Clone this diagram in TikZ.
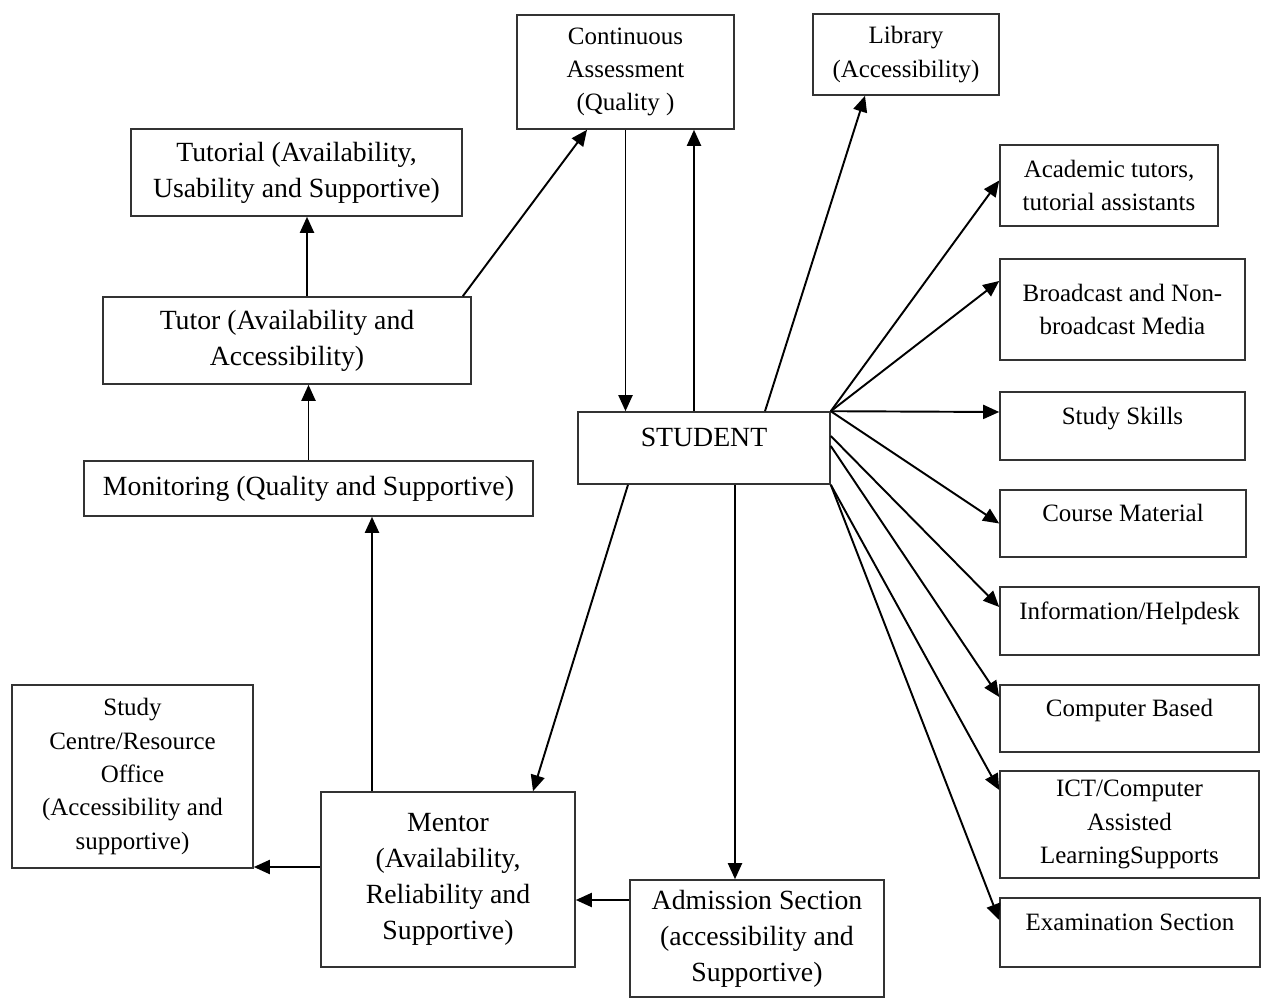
\documentclass[tikz,border=0pt]{standalone}
\usepackage{fontspec}
\setmainfont{Liberation Serif}
\usepackage{tikz}
\usetikzlibrary{
    arrows.meta
}

\begin{document}
\begin{tikzpicture}[x=0.2mm, y=-0.2mm,
    box/.style={
        rectangle,
        draw=black!80,
        line width=0.9pt,
        align=center,
        inner sep=2pt
    },
    bigtext/.style={font=\fontsize{15.8}{20.5}\selectfont},
    smalltext/.style={font=\fontsize{14.2}{19}\selectfont},
    raised/.style={text depth=12pt},
    arrow/.style={-{Triangle[length=3.2mm,width=2.8mm]}, line width=1.1pt}
]
\useasboundingbox (0,0) rectangle (1261,999);

% ===== TOP ROW =====
\node[box, smalltext, minimum width=43.4mm, minimum height=22.8mm] (ca) at (625.5,72) {Continuous\\Assessment\\(Quality )};
\node[box, smalltext, minimum width=37.2mm, minimum height=16.2mm] (lib) at (906,54.5) {Library\\(Accessibility)};

% ===== LEFT COLUMN =====
\node[box, bigtext, minimum width=66.2mm, minimum height=17.4mm] (tutorial) at (296.5,172.5) {Tutorial (Availability,\\Usability and Supportive)};
\node[box, bigtext, minimum width=73.6mm, minimum height=17.4mm] (tutor) at (287,340.5) {Tutor (Availability and\\Accessibility)};
\node[box, bigtext, minimum width=89.8mm, minimum height=11mm] (monitor) at (308.5,488.5) {Monitoring (Quality and Supportive)};
\node[box, smalltext, minimum width=48.2mm, minimum height=36.6mm] (centre) at (132.5,776.5) {Study\\Centre/Resource\\Office\\(Accessibility and\\supportive)};
\node[box, bigtext, minimum width=50.8mm, minimum height=35mm] (mentor) at (448,879.5) {Mentor\\(Availability,\\Reliability and\\Supportive)};

% ===== CENTRE =====
\node[box, bigtext, raised, minimum width=50.4mm, minimum height=14.4mm] (student) at (704,448) {STUDENT};
\node[box, bigtext, minimum width=50.8mm, minimum height=23.4mm] (admission) at (757,938.5) {Admission Section\\(accessibility and\\Supportive)};

% ===== RIGHT COLUMN =====
\node[box, smalltext, minimum width=43.6mm, minimum height=16.2mm] (acad) at (1109,185.5) {Academic tutors,\\tutorial assistants};
\node[box, smalltext, minimum width=49mm, minimum height=20.2mm] (media) at (1122.5,309.5) {Broadcast and Non-\\broadcast Media};
\node[box, smalltext, raised, minimum width=49mm, minimum height=13.6mm] (skills) at (1122.5,426) {Study Skills};
\node[box, smalltext, raised, minimum width=49.2mm, minimum height=13.4mm] (course) at (1123,523.5) {Course Material};
\node[box, smalltext, raised, minimum width=51.8mm, minimum height=13.6mm] (info) at (1129.5,621) {Information/Helpdesk};
\node[box, smalltext, raised, minimum width=51.8mm, minimum height=13.4mm] (computer) at (1129.5,718.5) {Computer Based};
\node[box, smalltext, minimum width=51.8mm, minimum height=21.4mm] (ict) at (1129.5,824.5) {ICT/Computer\\Assisted\\LearningSupports};
\node[box, smalltext, raised, minimum width=52mm, minimum height=13.8mm] (exam) at (1130,932.5) {Examination Section};

% left column arrows
\draw[arrow] ([xshift=4mm]tutor.north) -- ([xshift=4mm]tutor.north |- tutorial.south);
\draw[arrow] (monitor.north) -- (monitor.north |- tutor.south);
\draw[arrow] ([xshift=-15.2mm]mentor.north) -- ([xshift=-15.2mm]mentor.north |- monitor.south);
\draw[arrow] ([xshift=-1.8mm]tutor.north east) -- ([xshift=-7.7mm]ca.south);

% student <-> top
\draw[arrow] (ca.south) -- (ca.south |- student.north);
\draw[arrow] ([xshift=-2mm]student.north) -- ([xshift=-2mm]student.north |- ca.south);
\draw[arrow] ([xshift=12.2mm]student.north) -- ([xshift=-8.2mm]lib.south);

% fan to the right
\draw[arrow] (student.north east) -- ([yshift=1mm]acad.west);
\draw[arrow] (student.north east) -- ([yshift=5.7mm]media.west);
\draw[arrow] (student.north east) -- ([yshift=2.8mm]skills.west);
\draw[arrow] (student.north east) -- (course.west);
\draw[arrow] ([yshift=2.4mm]student.east) -- ([yshift=2.8mm]info.west);
\draw[arrow] ([yshift=0.4mm]student.east) -- ([yshift=4.3mm]computer.west);
\draw[arrow] (student.south east) -- ([yshift=6.9mm]ict.west);
\draw[arrow] (student.south east) -- ([yshift=2.5mm]exam.west);

% lower arrows
\draw[arrow] ([xshift=-15.2mm]student.south) -- ([xshift=17mm]mentor.north);
\draw[arrow] ([xshift=6.2mm]student.south) -- ([xshift=6.2mm]student.south |- admission.north);
\draw[arrow] ([yshift=7.7mm]admission.west) -- ([yshift=7.7mm]admission.west -| mentor.east);
\draw[arrow] ([yshift=2.5mm]mentor.west) -- ([yshift=2.5mm]mentor.west -| centre.east);

\end{tikzpicture}
\end{document}
